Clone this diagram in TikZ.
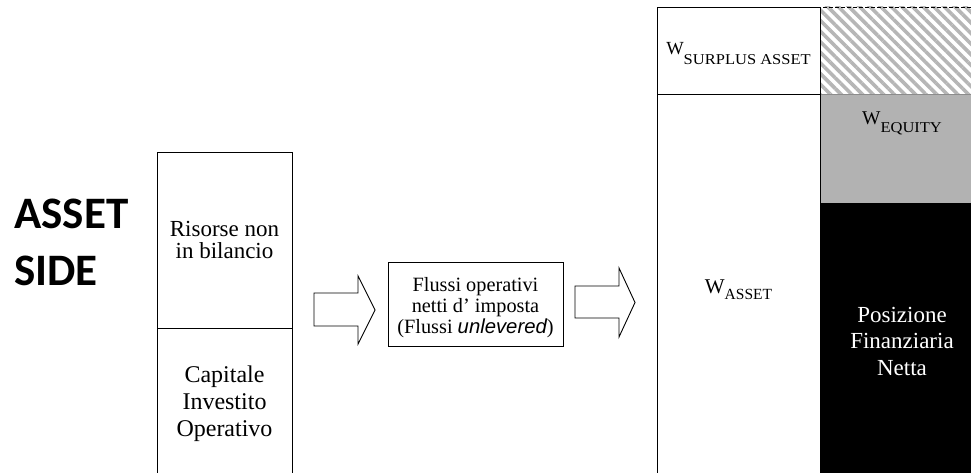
\documentclass[tikz,border=0pt]{standalone}
\usepackage{fontspec}
\usepackage{graphicx}
\setmainfont{Liberation Serif}
\newfontfamily\carlitof{Carlito}
\newfontfamily\arialf{Liberation Sans}
\usetikzlibrary{patterns.meta}
\definecolor{midgray}{HTML}{B2B2B2}
\definecolor{hatchgray}{HTML}{B6B6B6}
\definecolor{edgegray}{HTML}{8C8C8C}
\newcommand\fsz[2]{\fontsize{#1}{#2}\selectfont}
\begin{document}
\begin{tikzpicture}[x=1pt,y=-1pt,
  region/.style={draw=black, line width=0.9pt, inner sep=0pt, outer sep=0pt, align=center, anchor=north west},
  plainfill/.style={inner sep=0pt, outer sep=0pt, anchor=north west},
  wlabel/.style={anchor=base, inner sep=0pt},
  blockarrow/.style={draw=black, line width=0.9pt, line join=miter, fill=white}]
\useasboundingbox (0,0) rectangle (971,473);

% right column (liability side)
\node[plainfill, minimum width=170pt, minimum height=87pt,
      pattern={Lines[angle=-45,distance=7.5pt,line width=3.6pt]}, pattern color=hatchgray] (hatch) at (820,7) {};
\node[plainfill, minimum width=170pt, minimum height=109pt, fill=midgray, draw=edgegray, line width=0.8pt] (equity) at (820,94) {};
\node[plainfill, minimum width=164pt, minimum height=276pt, fill=black, text=white, align=center,
      font=\fsz{23}{26.5}] (pfn) at (820,203) {Posizione\\Finanziaria\\Netta};
\fill[black] (pfn.south west) rectangle ++(170,30);
\draw[line width=0.9pt, dash pattern=on 4pt off 2pt] (hatch.south west) -- (hatch.north west) -- (hatch.north east);

% asset column
\node[region, minimum width=163pt, minimum height=87pt] (surplus) at (657,7) {};
\node[region, minimum width=163pt, minimum height=396pt] (asset) at (657,94) {};

% left box
\node[region, minimum width=135pt, minimum height=176pt, font=\fsz{23}{22}] (risorse) at (157,152) {Risorse non\\in bilancio};
\node[region, minimum width=135pt, minimum height=152pt, font=\fsz{24}{27}] (capitale) at (157,328) {Capitale\\Investito\\Operativo};

% middle box
\node[region, minimum width=175pt, minimum height=84pt] (flussi) at (388,262) {};
\node[align=center, inner sep=0pt, font=\fsz{20.3}{21}] (flussitext) at ([yshift=-4pt]flussi.center)
  {Flussi operativi\\netti d’ imposta\\(Flussi {\arialf\itshape unlevered})};

% block arrows
\draw[blockarrow] (314,293) -- (358,293) -- (358,276) -- (375,310) -- (358,344) -- (358,326) -- (314,326) -- cycle;
\draw[blockarrow] (575,286) -- (619,286) -- (619,268) -- (635,302.5) -- (619,337) -- (619,318) -- (575,318) -- cycle;

% W labels
\node[wlabel, font=\fsz{18.5}{18.5}] (wsurplus) at (738.5,55) {W\raisebox{-10pt}{\scalebox{1.1}[1]{\fsz{15}{15}SURPLUS ASSET}}};
\node[wlabel, font=\fsz{19.5}{19.5}] (wequity) at (902,125) {W\raisebox{-8pt}{\scalebox{1.1}[1]{\fsz{15}{15}EQUITY}}};
\node[wlabel, font=\fsz{21}{21}] (wasset) at (738.5,293) {W\raisebox{-6pt}{\fsz{15.5}{15.5}ASSET}};

% side title
\node[anchor=west, align=left, inner sep=0pt, font=\carlitof\bfseries\fsz{45}{57}] (side) at (14,242) {ASSET\\SIDE};
\end{tikzpicture}
\end{document}
